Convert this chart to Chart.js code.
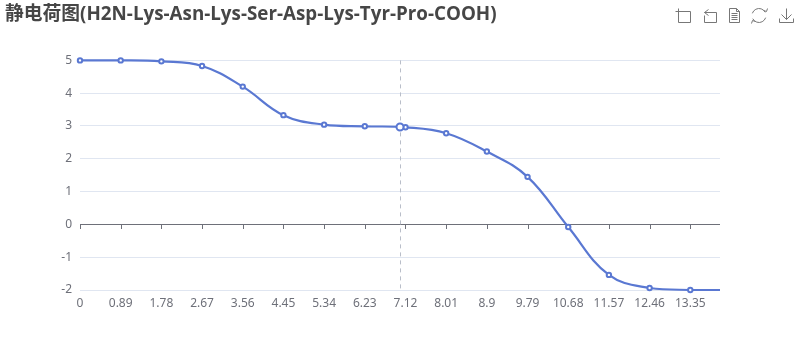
<!DOCTYPE html>
<html><head><meta charset="utf-8">
<style>html,body{margin:0;padding:0;background:#fff}canvas{display:block}</style>
<script src="https://cdn.jsdelivr.net/npm/chart.js@4"></script></head>
<body><canvas id="c" width="800" height="360"></canvas>
<script>
const titleText = '静电荷图(H2N-Lys-Asn-Lys-Ser-Asp-Lys-Tyr-Pro-COOH)';
const xTicks = [0,0.89,1.78,2.67,3.56,4.45,5.34,6.23,7.12,8.01,8.9,9.79,10.68,11.57,12.46,13.35];
const netCharge = [5,5,4.97,4.83,4.2,3.33,3.04,2.99,2.96,2.78,2.22,1.45,-0.08,-1.54,-1.94,-2];
const endX = [14], endCharge = [-2];
const hoverX = 7, hoverCharge = 2.97;
const BLUE='#5A78D2', AXIS='#6E7079', GRID='#E0E6F1';
const FONT='"Open Sans","Noto Sans CJK SC",sans-serif';
const LABELFONT='"Noto Sans","Noto Sans CJK SC",sans-serif';

const markers = xTicks.map((x,i)=>({x,y:netCharge[i]}));
const linePts = markers.concat(endX.map((x,i)=>({x,y:endCharge[i]})));

const overlay = {
  id:'overlay',
  beforeDatasetsDraw(chart){
    const {ctx,scales:{x,y}} = chart;
    const y0=y.getPixelForValue(0);
    ctx.save();
    ctx.strokeStyle=AXIS;ctx.lineWidth=1;
    ctx.beginPath();
    ctx.moveTo(x.left,Math.round(y0)+.5);ctx.lineTo(x.right,Math.round(y0)+.5);
    x.ticks.forEach(t=>{const p=Math.round(x.getPixelForValue(t.value))+.5;ctx.moveTo(p,Math.round(y0));ctx.lineTo(p,Math.round(y0)+5);});
    ctx.stroke();
    const hx=Math.round(x.getPixelForValue(hoverX))+.5;
    ctx.strokeStyle='#B9BEC9';ctx.setLineDash([4,4]);
    ctx.beginPath();ctx.moveTo(hx,y.top);ctx.lineTo(hx,y.bottom);ctx.stroke();
    ctx.restore();
  },
  afterDraw(chart){
    const c=chart.ctx;
    c.save();c.strokeStyle='#777';c.lineWidth=1;c.lineJoin='miter';
    const L=(...p)=>{c.beginPath();for(let i=0;i<p.length;i+=2){i?c.lineTo(p[i]+.5,p[i+1]+.5):c.moveTo(p[i]+.5,p[i+1]+.5);}c.stroke();};
    L(675,11,690,11); L(678,8,678,22,690,22,690,11);
    L(708,9,704,12,708,15); L(704,12,716,12,716,22,704,22,704,15);
    L(729,8,736,8,739,11,739,22,729,22,729,8); L(736,8,736,11,739,11);
    L(731,13,737,13); L(731,15,737,15); L(731,17,737,17); L(731,19,737,19);
    c.beginPath();c.arc(759,15.5,7,Math.PI*1.1,Math.PI*1.85);c.stroke();
    c.beginPath();c.arc(759,15.5,7,Math.PI*.1,Math.PI*.85);c.stroke();
    L(763,10,766,11,767,8); L(755,21,752,20,751,23);
    L(786,8,786,19); L(781,14,786,19,791,14); L(779,18,779,22,793,22,793,18);
    c.restore();
  }
};

new Chart(document.getElementById('c'),{
  type:'line',
  data:{datasets:[
    {data:[{x:hoverX,y:hoverCharge}],showLine:false,clip:false,pointRadius:3.5,pointBorderWidth:2,pointBorderColor:BLUE,pointBackgroundColor:'#fff',order:0},
    {data:markers,showLine:false,clip:false,pointRadius:2.2,pointBorderWidth:2,pointBorderColor:BLUE,pointBackgroundColor:'#fff',order:1},
    {data:linePts,clip:false,borderColor:BLUE,borderWidth:2.2,pointRadius:0,tension:0.4,order:2}
  ]},
  plugins:[overlay],
  options:{
    responsive:false,animation:false,
    layout:{padding:{left:5,right:80,top:0,bottom:0}},
    events:[],
    plugins:{
      legend:{display:false},tooltip:{enabled:false},
      title:{display:true,text:titleText,align:'start',color:'#464646',
        font:{family:FONT,size:18.8,weight:'bold',lineHeight:1.35},padding:{top:2,bottom:33}}
    },
    scales:{
      x:{type:'linear',min:0,max:14,
        afterBuildTicks(s){s.ticks=xTicks.map(value=>({value}));},
        afterFit(s){s.height=70;},
        grid:{display:false},border:{display:false},
        ticks:{autoSkip:false,maxRotation:0,color:AXIS,font:{family:LABELFONT,size:12},padding:-2,callback:v=>String(v)}},
      y:{min:-2,max:5,
        afterFit(s){s.width=75;},
        grid:{color:GRID,drawTicks:false},border:{display:false},
        ticks:{stepSize:1,color:AXIS,font:{family:LABELFONT,size:12},padding:8}}
    }
  }
});
</script></body></html>
